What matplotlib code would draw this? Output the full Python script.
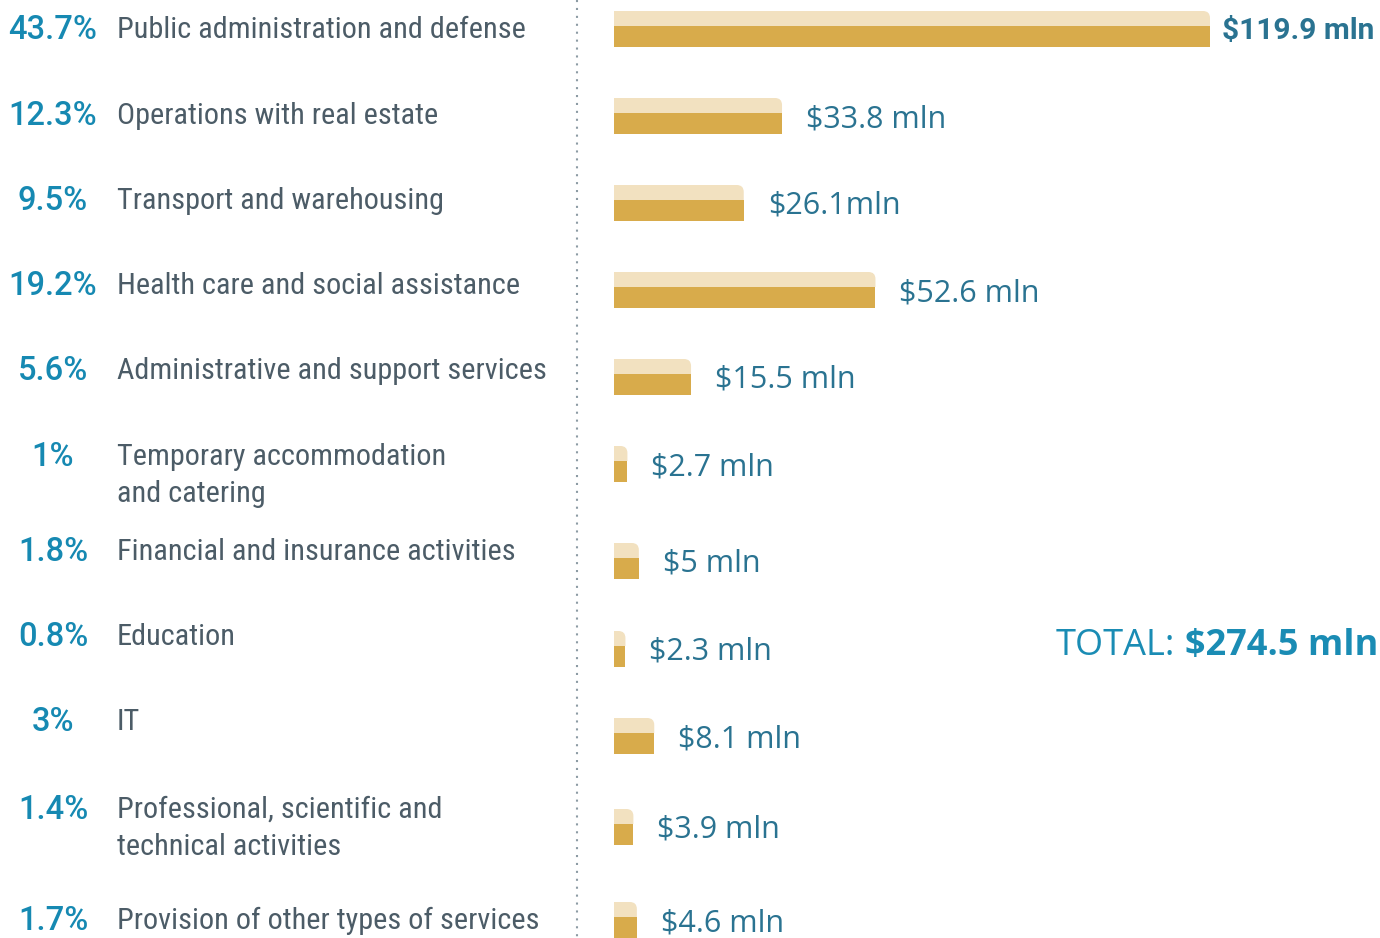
import matplotlib
matplotlib.use("Agg")
import matplotlib.pyplot as plt
from matplotlib import font_manager
from matplotlib.path import Path
from matplotlib.patches import PathPatch

# data
sectors = [
    "Public administration and defense",
    "Operations with real estate",
    "Transport and warehousing",
    "Health care and social assistance",
    "Administrative and support services",
    "Temporary accommodation\nand catering",
    "Financial and insurance activities",
    "Education",
    "IT",
    "Professional, scientific and\ntechnical activities",
    "Provision of other types of services",
]
shares = [43.7, 12.3, 9.5, 19.2, 5.6, 1, 1.8, 0.8, 3, 1.4, 1.7]
amounts = [119.9, 33.8, 26.1, 52.6, 15.5, 2.7, 5, 2.3, 8.1, 3.9, 4.6]
units = [" mln", " mln", "mln", " mln", " mln", " mln", " mln", " mln", " mln", " mln", " mln"]
total = 274.5

# layout (pixel rows, figure is 1380 x 938)
W, H = 1380, 938
text_rows = [30, 116, 201, 286, 371, 457, 552, 637, 722, 810, 921]
bar_rows = [29, 116, 203, 290, 377, 464, 561, 649, 736, 827, 920]
line_gap = 37

# narrow face for sector names if one is installed, Roboto otherwise
names = {f.name for f in font_manager.fontManager.ttflist}
narrow, cat_size = "Roboto", 21
for fam in ["Roboto Condensed", "Liberation Sans Narrow", "Open Sans Condensed"]:
    if fam in names:
        narrow, cat_size = fam, 21.8
        break

C_PCT = "#1689b2"
C_CAT = "#4c5c67"
C_VAL = "#2a7391"
C_TOTAL = "#1a8cb4"
C_LIGHT = "#f2e1c0"
C_DARK = "#d8ab4b"

fig = plt.figure(figsize=(W / 100, H / 100), dpi=100)

# text layer in pixel coordinates
bg = fig.add_axes([0, 0, 1, 1])
bg.set_xlim(0, W)
bg.set_ylim(H, 0)
bg.axis("off")

for i, (name, pct) in enumerate(zip(sectors, shares)):
    y = text_rows[i]
    bg.text(53, y, f"{pct:g}%", ha="center", va="center", color=C_PCT,
            fontsize=23.5, family=["Roboto", "DejaVu Sans"], fontweight="medium")
    for k, line in enumerate(name.split("\n")):
        bg.text(117, y + k * line_gap, line, ha="left", va="center", color=C_CAT,
                fontsize=cat_size, family=[narrow, "DejaVu Sans"])

# dotted separator
bg.plot([577, 577], [0, H], color="#8c9ba4", lw=1.5, ls=(0, (1, 2.8)))

# bars, x in mln USD
x0_px = 614
px_per_unit = 596 / 119.9
ax = fig.add_axes([x0_px / W, 0, (W - x0_px) / W, 1])
ax.set_xlim(0, (W - x0_px) / px_per_unit)
ax.set_ylim(H, 0)
ax.axis("off")

light_h, dark_h = 15, 21
half = (light_h + dark_h) / 2
rx = 7 / px_per_unit
ry = 7

for i, v in enumerate(amounts):
    yc = bar_rows[i]
    top = yc - half
    split = top + light_h
    ax.barh(split + dark_h / 2, v, height=dark_h, left=0, color=C_DARK, lw=0)
    r = min(rx, v)
    verts = [(0, split), (0, top), (v - r, top), (v, top), (v, top + ry),
             (v, split), (0, split)]
    codes = [Path.MOVETO, Path.LINETO, Path.LINETO, Path.CURVE3, Path.CURVE3,
             Path.LINETO, Path.CLOSEPOLY]
    ax.add_patch(PathPatch(Path(verts, codes), facecolor=C_LIGHT, lw=0))

    label = f"${v:g}{units[i]}"
    if i == 0:
        ax.annotate(label, xy=(v, yc), xytext=(12, -2), textcoords="offset pixels",
                    ha="left", va="center", color=C_VAL, fontsize=21.5,
                    family=["Roboto", "DejaVu Sans"], fontweight="bold")
    else:
        ax.annotate(label, xy=(v, yc), xytext=(24, -3), textcoords="offset pixels",
                    ha="left", va="center", color=C_VAL, fontsize=22,
                    family=["Open Sans", "DejaVu Sans"])

# total, bold amount right-aligned, plain prefix placed to its left
tot = bg.text(1378, 655, f"${total:g} mln", ha="right", va="baseline",
              color=C_TOTAL, fontsize=26, family=["Open Sans", "DejaVu Sans"],
              fontweight="bold")
fig.canvas.draw()
bb = tot.get_window_extent()
x_left = bg.transData.inverted().transform((bb.x0, bb.y0))[0]
bg.text(x_left - 10, 655, "TOTAL:", ha="right", va="baseline", color=C_TOTAL,
        fontsize=26, family=["Open Sans", "DejaVu Sans"])

fig.savefig("out.png", dpi=100)
